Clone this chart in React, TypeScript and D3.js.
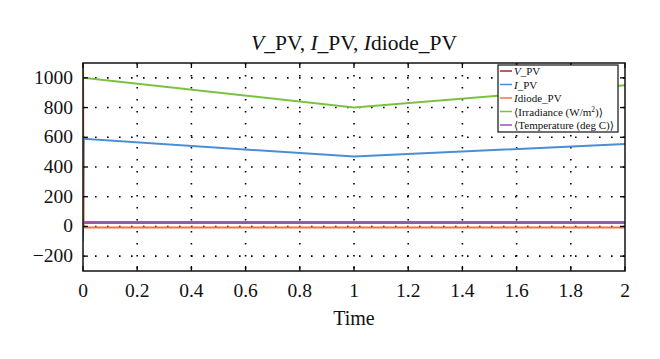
import React from "react";
import * as d3 from "d3";

const xTicks = [0, 0.2, 0.4, 0.6, 0.8, 1, 1.2, 1.4, 1.6, 1.8, 2];
const yTicks = [-200, 0, 200, 400, 600, 800, 1000];

const vTime = [0, 2];
const vValues = [28, 28];
const iTime = [0, 0.003, 1, 2];
const iValues = [-100, 590, 470, 555];
const dTime = [0, 0.002, 2];
const dValues = [1150, -7, -7];
const irrTime = [0, 1, 2];
const irrValues = [1000, 800, 950];
const tTime = [0, 2];
const tValues = [25, 25];

const seriesNames = ["V_PV", "I_PV", "Idiode_PV", "Irradiance", "Temperature"];
const colors = ["#a3282e", "#4a8fd4", "#ee7440", "#7cc242", "#9a55b8"];

const W = 660, H = 359;
const L = 83, R = 625, T = 63, B = 271;
const font = "'Liberation Serif', 'DejaVu Serif', serif";

export default function App() {
  const x = d3.scaleLinear().domain([0, 2]).range([L, R]);
  const y = d3.scaleLinear().domain([-300, 1100]).range([B, T]);
  const line = d3.line<[number, number]>().x(d => x(d[0])).y(d => y(d[1]));
  const mk = (ts: number[], vs: number[]) => line(ts.map((t, i) => [t, vs[i]] as [number, number])) || "";
  const series = [
    mk(vTime, vValues),
    mk(iTime, iValues),
    mk(dTime, dValues),
    mk(irrTime, irrValues),
    mk(tTime, tValues),
  ];
  const legendX = 498, legendY = 65, legendW = 120, legendH = 67;
  const labels: React.ReactNode[] = [
    <><tspan fontStyle="italic">V</tspan>_PV</>,
    <><tspan fontStyle="italic">I</tspan>_PV</>,
    <><tspan fontStyle="italic">I</tspan>diode_PV</>,
    <>⟨Irradiance (W/m<tspan baselineShift="super" fontSize="7.5">2</tspan>)⟩</>,
    <>⟨Temperature (deg C)⟩</>,
  ];
  return (
    <svg width={W} height={H} style={{ position: "absolute", left: 0, top: 0, background: "#fff" }} fontFamily={font}>
      <defs>
        <clipPath id="plot"><rect x={L} y={T} width={R - L} height={B - T} /></clipPath>
      </defs>
      <rect width={W} height={H} fill="#fff" />
      {xTicks.slice(1, -1).map(t => (
        <line key={"gx" + t} x1={x(t)} x2={x(t)} y1={T} y2={B} stroke="#000" strokeWidth={1.6} strokeDasharray="1.6,10.4" />
      ))}
      {yTicks.map(t => (
        <line key={"gy" + t} x1={L} x2={R} y1={y(t)} y2={y(t)} stroke="#000" strokeWidth={1.6} strokeDasharray="1.6,10.4" />
      ))}
      <g clipPath="url(#plot)">
        {series.map((d, i) => (
          <path key={i} d={d} fill="none" stroke={colors[i]} strokeWidth={i === 4 ? 2.6 : 2} />
        ))}
      </g>
      {xTicks.map(t => (
        <g key={"tx" + t}>
          <line x1={x(t)} x2={x(t)} y1={B} y2={B - 5} stroke="#000" strokeWidth={1.3} />
          <line x1={x(t)} x2={x(t)} y1={T} y2={T + 5} stroke="#000" strokeWidth={1.3} />
          <text x={x(t)} y={297} textAnchor="middle" fontSize={19.5} fill="#111">{String(t)}</text>
        </g>
      ))}
      {yTicks.map(t => (
        <g key={"ty" + t}>
          <line x1={L} x2={L + 5} y1={y(t)} y2={y(t)} stroke="#000" strokeWidth={1.3} />
          <line x1={R} x2={R - 5} y1={y(t)} y2={y(t)} stroke="#000" strokeWidth={1.3} />
          <text x={73} y={y(t) + 6} textAnchor="end" fontSize={19.5} fill="#111">{t < 0 ? "\u2212" + Math.abs(t) : String(t)}</text>
        </g>
      ))}
      <rect x={L} y={T} width={R - L} height={B - T} fill="none" stroke="#111" strokeWidth={1.5} />
      <rect x={legendX} y={legendY} width={legendW} height={legendH} fill="#fff" stroke="#111" strokeWidth={1.2} />
      {seriesNames.map((n, i) => {
        const ly = legendY + 6 + i * 13.5;
        return (
          <g key={n}>
            <line x1={legendX + 2} x2={legendX + 14} y1={ly} y2={ly} stroke={colors[i]} strokeWidth={1.5} />
            <text x={legendX + 16} y={ly + 4} fontSize={11} fill="#111">{labels[i]}</text>
          </g>
        );
      })}
      <text x={354} y={50} textAnchor="middle" fontSize={21.5} fill="#111">
        <tspan fontStyle="italic">V</tspan>_PV, <tspan fontStyle="italic">I</tspan>_PV, <tspan fontStyle="italic">I</tspan>diode_PV
      </text>
      <text x={354} y={325} textAnchor="middle" fontSize={20} fill="#111">Time</text>
    </svg>
  );
}
